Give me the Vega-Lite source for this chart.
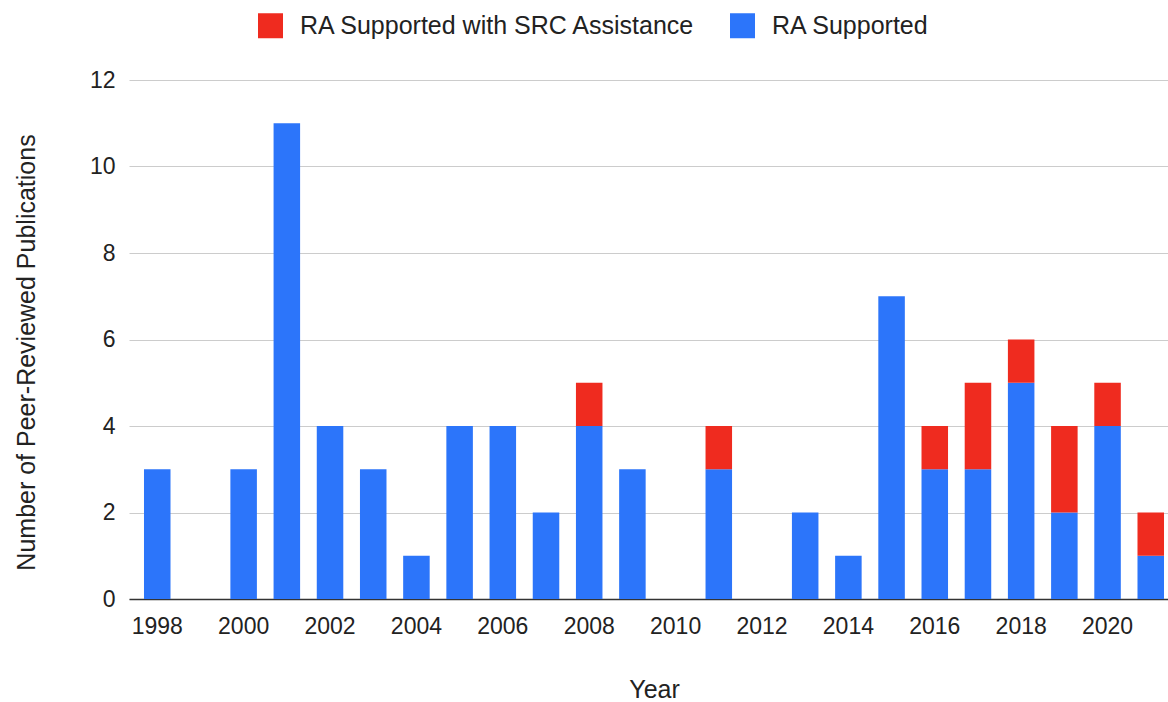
{
  "$schema": "https://vega.github.io/schema/vega-lite/v6.json",
  "autosize": "none",
  "width": 1050,
  "height": 519,
  "padding": {"left": 129, "top": 80, "right": 0, "bottom": 103},
  "background": "white",
  "config": {
    "font": "Liberation Sans",
    "view": {"stroke": null}
  },
  "data": {
    "values": [
      {"year": "1998", "series": "RA Supported", "count": 3},
      {"year": "2000", "series": "RA Supported", "count": 3},
      {"year": "2001", "series": "RA Supported", "count": 11},
      {"year": "2002", "series": "RA Supported", "count": 4},
      {"year": "2003", "series": "RA Supported", "count": 3},
      {"year": "2004", "series": "RA Supported", "count": 1},
      {"year": "2005", "series": "RA Supported", "count": 4},
      {"year": "2006", "series": "RA Supported", "count": 4},
      {"year": "2007", "series": "RA Supported", "count": 2},
      {"year": "2008", "series": "RA Supported", "count": 4},
      {"year": "2008", "series": "RA Supported with SRC Assistance", "count": 1},
      {"year": "2009", "series": "RA Supported", "count": 3},
      {"year": "2011", "series": "RA Supported", "count": 3},
      {"year": "2011", "series": "RA Supported with SRC Assistance", "count": 1},
      {"year": "2013", "series": "RA Supported", "count": 2},
      {"year": "2014", "series": "RA Supported", "count": 1},
      {"year": "2015", "series": "RA Supported", "count": 7},
      {"year": "2016", "series": "RA Supported", "count": 3},
      {"year": "2016", "series": "RA Supported with SRC Assistance", "count": 1},
      {"year": "2017", "series": "RA Supported", "count": 3},
      {"year": "2017", "series": "RA Supported with SRC Assistance", "count": 2},
      {"year": "2018", "series": "RA Supported", "count": 5},
      {"year": "2018", "series": "RA Supported with SRC Assistance", "count": 1},
      {"year": "2019", "series": "RA Supported", "count": 2},
      {"year": "2019", "series": "RA Supported with SRC Assistance", "count": 2},
      {"year": "2020", "series": "RA Supported", "count": 4},
      {"year": "2020", "series": "RA Supported with SRC Assistance", "count": 1},
      {"year": "2021", "series": "RA Supported", "count": 1},
      {"year": "2021", "series": "RA Supported with SRC Assistance", "count": 1}
    ]
  },
  "mark": {"type": "bar"},
  "encoding": {
    "x": {
      "field": "year",
      "type": "ordinal",
      "scale": {
        "domain": ["1998","1999","2000","2001","2002","2003","2004","2005","2006","2007","2008","2009","2010","2011","2012","2013","2014","2015","2016","2017","2018","2019","2020","2021"],
        "paddingInner": 0.386,
        "paddingOuter": 0.347
      },
      "axis": {
        "title": "Year",
        "titleFontSize": 25,
        "titleFontWeight": "normal",
        "titleColor": "#222222",
        "titleY": 98,
        "titleBaseline": "alphabetic",
        "values": ["1998","2000","2002","2004","2006","2008","2010","2012","2014","2016","2018","2020"],
        "labelAngle": 0,
        "labelFontSize": 23,
        "labelColor": "#222222",
        "labelPadding": 16,
        "ticks": false,
        "domainColor": "#333333",
        "domainWidth": 1.5,
        "grid": false
      }
    },
    "y": {
      "field": "count",
      "type": "quantitative",
      "aggregate": "sum",
      "stack": "zero",
      "scale": {"domain": [0, 12], "nice": false},
      "axis": {
        "title": "Number of Peer-Reviewed Publications",
        "titleFontSize": 25,
        "titleFontWeight": "normal",
        "titleColor": "#222222",
        "titleAngle": -90,
        "titleX": -95,
        "titleY": 272,
        "titleAlign": "center",
        "titleBaseline": "alphabetic",
        "values": [0, 2, 4, 6, 8, 10, 12],
        "labelFontSize": 23,
        "labelColor": "#222222",
        "labelPadding": 14,
        "ticks": false,
        "domain": false,
        "grid": true,
        "gridColor": "#cccccc",
        "gridWidth": 1
      }
    },
    "color": {
      "field": "series",
      "type": "nominal",
      "scale": {
        "domain": ["RA Supported with SRC Assistance", "RA Supported"],
        "range": ["#ef2b1f", "#2c75fa"]
      },
      "legend": {
        "title": null,
        "orient": "none",
        "direction": "horizontal",
        "legendX": 129,
        "legendY": -67,
        "symbolType": "square",
        "symbolSize": 625,
        "symbolStrokeWidth": 0,
        "labelFontSize": 25,
        "labelColor": "#222222",
        "labelOffset": 17,
        "labelLimit": 0,
        "columnPadding": 33,
        "padding": 0
      }
    },
    "order": {"field": "series", "sort": "ascending"}
  }
}
